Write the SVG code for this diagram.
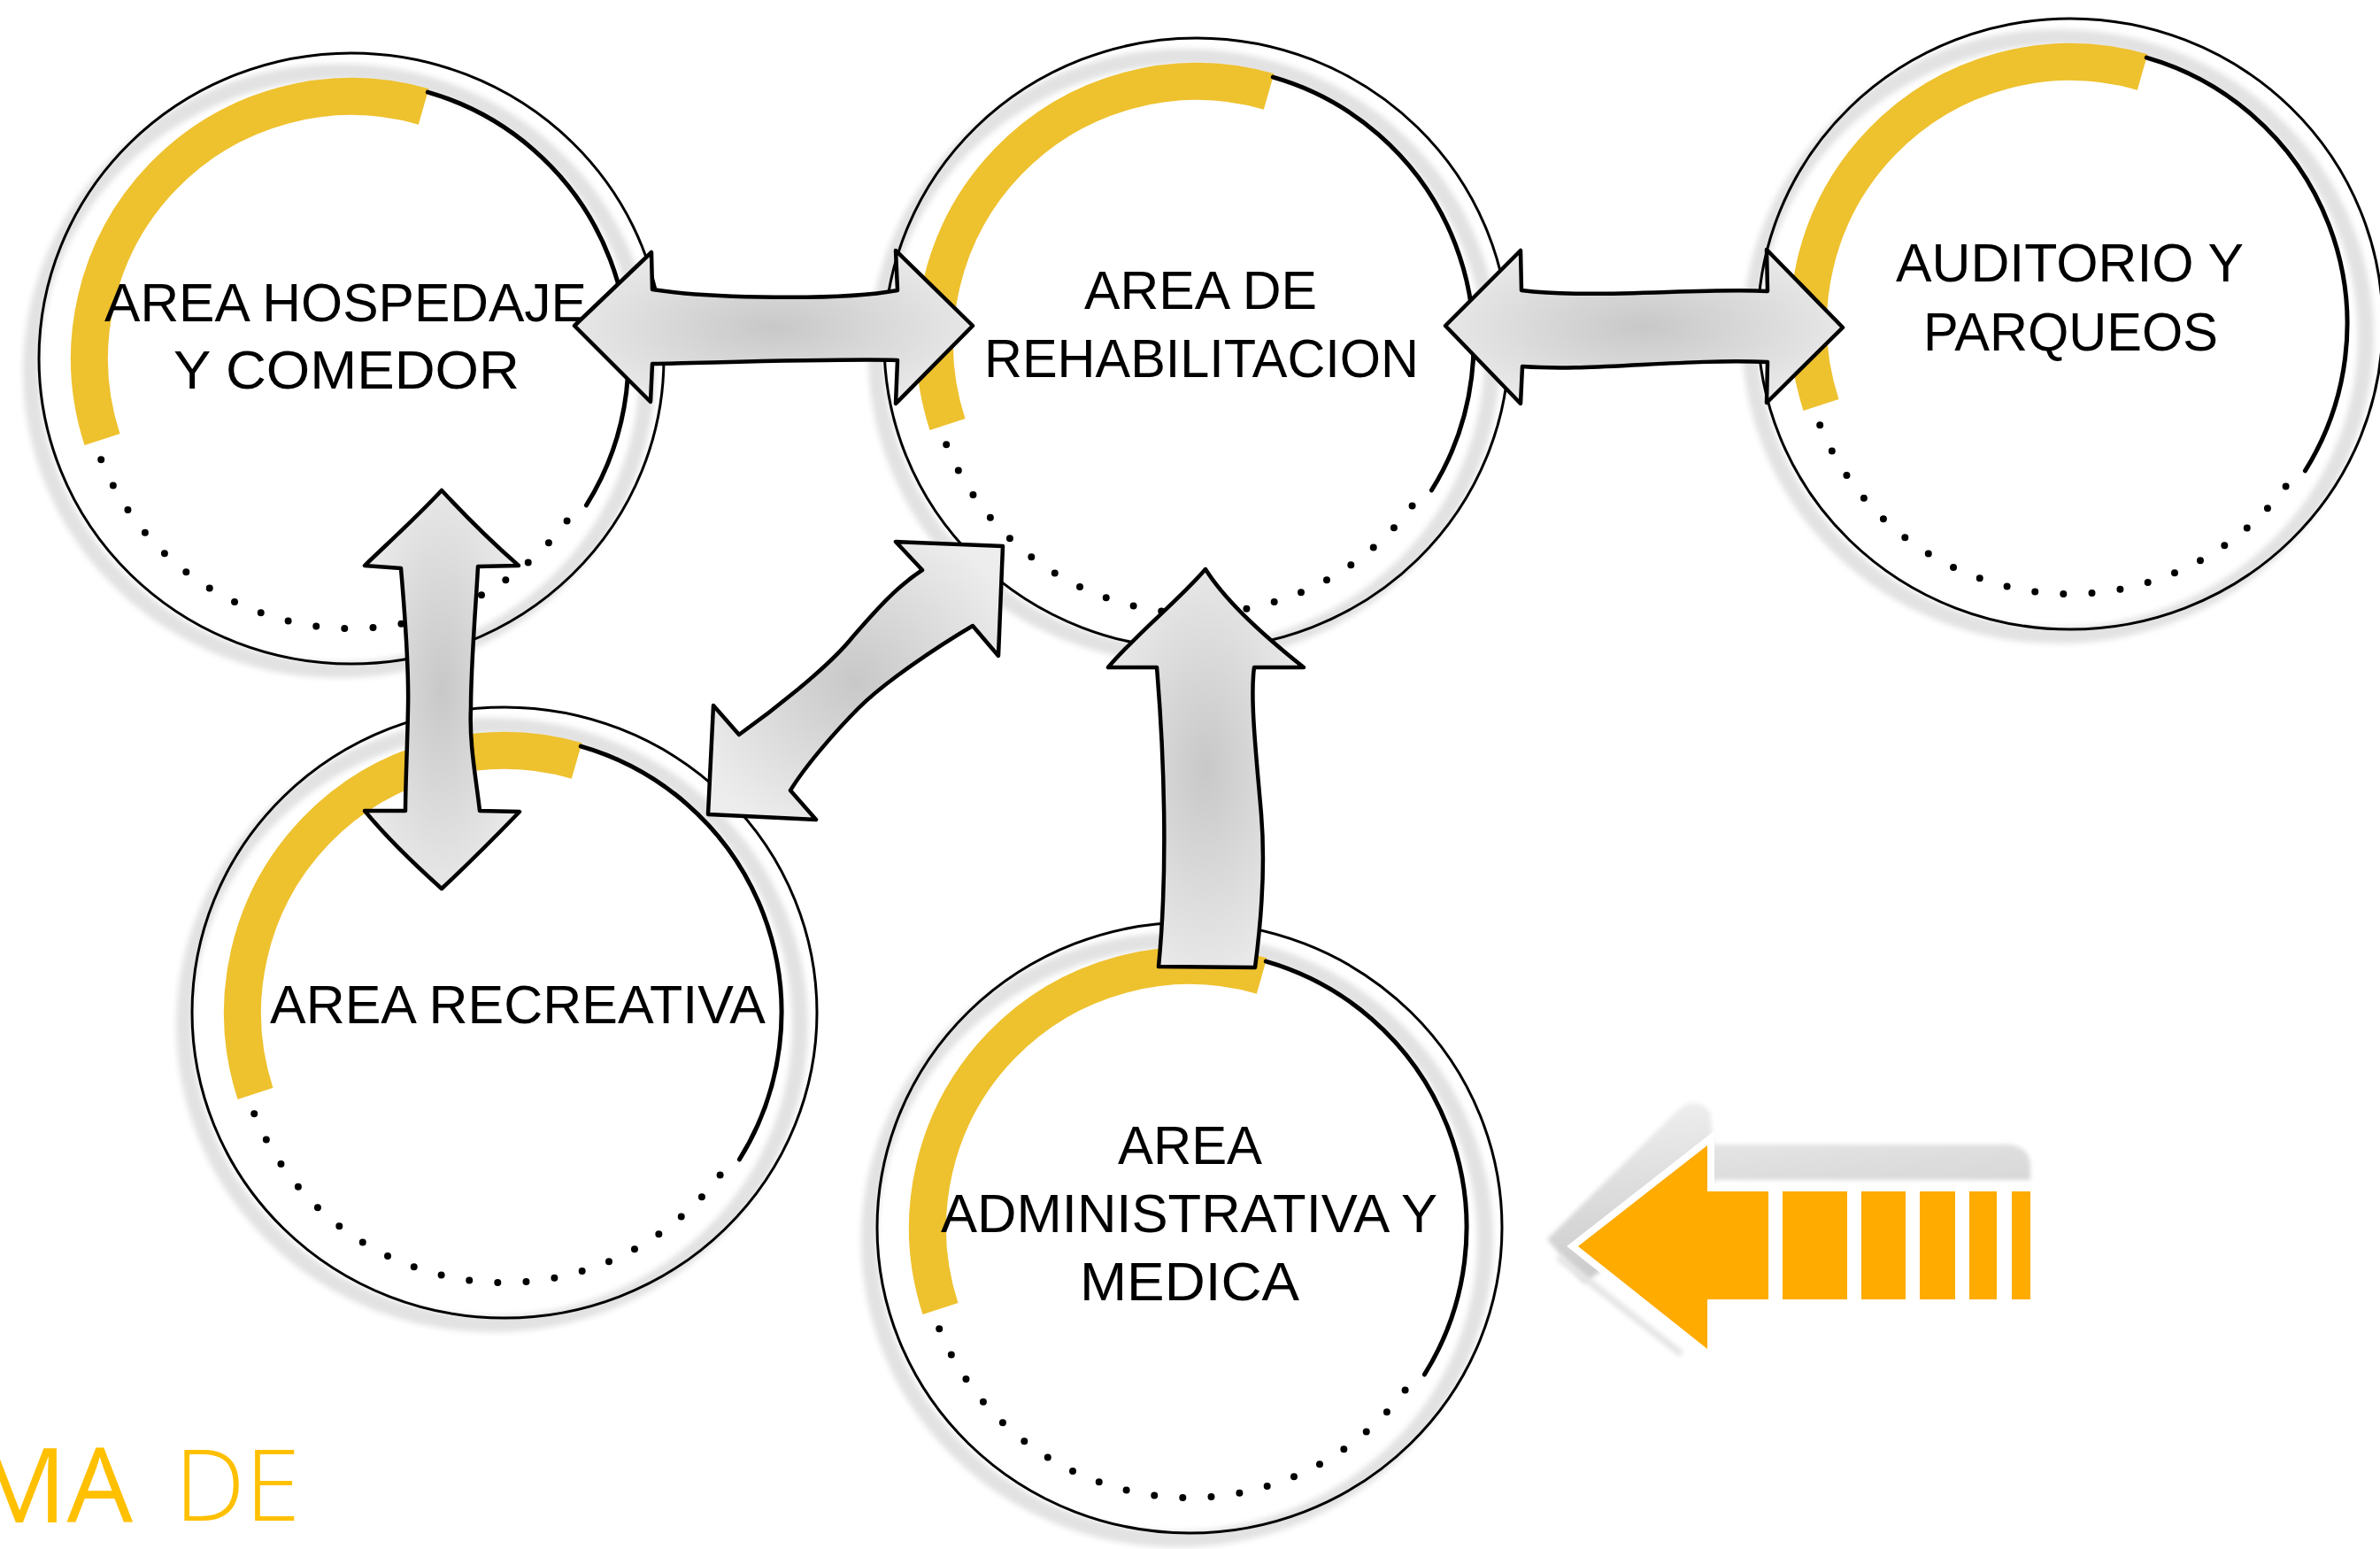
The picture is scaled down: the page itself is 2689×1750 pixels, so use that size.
<svg xmlns="http://www.w3.org/2000/svg" xmlns:xlink="http://www.w3.org/1999/xlink" width="2689" height="1750" viewBox="0 0 2689 1750">
<style>
  .lbl { font-family: "Liberation Sans", Arial, sans-serif; font-size: 62px; fill: #000; }
  .arr { fill: url(#ag); stroke: #000; stroke-width: 4.5; stroke-linejoin: round; }
  .org { fill: #FFAB00; }
  .ttl { font-family: "Open Sans", "Liberation Sans", sans-serif; fill: #FFC000; }
</style>
<defs>
  <radialGradient id="ag" cx="0.5" cy="0.5" r="0.6">
    <stop offset="0" stop-color="#c8c8c8"/>
    <stop offset="1" stop-color="#ededed"/>
  </radialGradient>
  <linearGradient id="sh" x1="0" y1="0" x2="0.25" y2="1">
    <stop offset="0" stop-color="#f0f0f0"/>
    <stop offset="1" stop-color="#c9c9c9"/>
  </linearGradient>
  <filter id="soft" x="-10%" y="-10%" width="120%" height="120%">
    <feGaussianBlur stdDeviation="3"/>
  </filter>
  <filter id="soft2" x="-10%" y="-20%" width="120%" height="140%">
    <feGaussianBlur stdDeviation="2.5"/>
  </filter>
  <g id="ring">
    <ellipse cx="-14" cy="14" rx="348" ry="338" fill="none" stroke="#e2e2e2" stroke-width="18" filter="url(#soft)"/>
    <ellipse cx="0" cy="0" rx="353" ry="345" fill="none" stroke="#000" stroke-width="3"/>
    <path d="M -281.5 91.5 A 296 296 0 0 1 81.6 -284.5" fill="none" stroke="#EEC12E" stroke-width="42"/>
    <path d="M 86.3 -300.9 A 313 313 0 0 1 265.4 165.9" fill="none" stroke="#000" stroke-width="5" stroke-linecap="round"/>
    <path d="M 243.6 183.5 A 305 305 0 0 1 -282.8 114.3" fill="none" stroke="#000" stroke-width="8" stroke-linecap="round" stroke-dasharray="0 32.2"/>
  </g>
</defs>
<rect x="0" y="0" width="2689" height="1750" fill="#fff"/>

<g id="node-hospedaje">
  <use xlink:href="#ring" href="#ring" transform="translate(397,405)"/>
  <text class="lbl" x="118" y="363" textLength="545" lengthAdjust="spacingAndGlyphs">AREA HOSPEDAJE</text>
  <text class="lbl" x="196" y="439" textLength="391" lengthAdjust="spacingAndGlyphs">Y COMEDOR</text>
</g>
<g id="node-rehabilitacion">
  <use xlink:href="#ring" href="#ring" transform="translate(1352,388)"/>
  <text class="lbl" x="1225" y="349" textLength="263" lengthAdjust="spacingAndGlyphs">AREA DE</text>
  <text class="lbl" x="1112" y="426" textLength="491" lengthAdjust="spacingAndGlyphs">REHABILITACION</text>
</g>
<g id="node-auditorio">
  <use xlink:href="#ring" href="#ring" transform="translate(2339,366)"/>
  <text class="lbl" x="2142" y="318" textLength="393" lengthAdjust="spacingAndGlyphs">AUDITORIO Y</text>
  <text class="lbl" x="2173" y="396" textLength="333" lengthAdjust="spacingAndGlyphs">PARQUEOS</text>
</g>
<g id="node-recreativa">
  <use xlink:href="#ring" href="#ring" transform="translate(570,1144)"/>
  <text class="lbl" x="305" y="1156" textLength="560" lengthAdjust="spacingAndGlyphs">AREA RECREATIVA</text>
</g>
<g id="node-administrativa">
  <use xlink:href="#ring" href="#ring" transform="translate(1344,1387)"/>
  <text class="lbl" x="1263" y="1315" textLength="163" lengthAdjust="spacingAndGlyphs">AREA</text>
  <text class="lbl" x="1063" y="1392" textLength="561" lengthAdjust="spacingAndGlyphs">ADMINISTRATIVA Y</text>
  <text class="lbl" x="1220" y="1469" textLength="248" lengthAdjust="spacingAndGlyphs">MEDICA</text>
</g>

<g id="connectors">
  <path id="arrow-hosp-rehab" class="arr" d="M 649 368 L 736 285 L 737 327 C 800 337, 950 340, 1014 328 L 1012 283 L 1099 368 L 1012 456 L 1014 407 C 950 405, 800 410, 737 411 L 735 454 Z"/>
  <path id="arrow-rehab-audit" class="arr" d="M 1633 368 L 1718 283 L 1719 328 C 1800 338, 1920 325, 1997 329 L 1996 282 L 2082 370 L 1996 455 L 1997 409 C 1900 405, 1800 420, 1720 414 L 1718 456 Z"/>
  <path id="arrow-hosp-recre" class="arr" d="M 499 554 C 470 585, 440 612, 412 639 L 453 642 C 458 700, 462 760, 461 800 C 460 850, 458 890, 458 916 L 412 916 C 440 950, 470 978, 499 1004 C 530 975, 560 945, 587 917 L 542 916 C 538 880, 530 840, 532 800 C 532 750, 538 680, 540 640 L 586 639 C 555 612, 525 582, 499 554 Z"/>
  <path id="arrow-recre-rehab" class="arr" d="M 1133 617 L 1128 741 L 1099 707 C 1060 730, 1000 770, 970 800 C 945 825, 910 865, 893 893 L 922 926 L 800 920 L 806 797 L 835 830 C 870 805, 935 755, 963 720 C 985 695, 1010 665, 1042 644 L 1012 612 Z"/>
  <path id="arrow-admin-rehab" class="arr" d="M 1362 643 C 1330 680, 1285 715, 1252 754 L 1307 754 C 1315 850, 1320 980, 1309 1092 L 1418 1093 C 1425 1040, 1430 980, 1425 920 C 1420 860, 1412 790, 1417 754 L 1473 754 C 1430 720, 1385 680, 1362 643 Z"/>
</g>

<g id="orange-arrow">
  <path d="M 1748 1400 L 1898 1252 Q 1916 1238 1932 1256 L 1936 1293 L 2270 1293 Q 2294 1296 2294 1318 L 2294 1333 L 1936 1333 L 1936 1340 L 1790 1450 Z" fill="url(#sh)" filter="url(#soft2)"/>
  <path d="M 1760 1420 L 1900 1530" stroke="#e6e6e6" stroke-width="8" filter="url(#soft2)"/>
  <path d="M 1783 1408 L 1929 1294 L 1929 1346 L 2294 1346 L 2294 1468 L 1929 1468 L 1929 1524 Z" fill="#fff" stroke="#fff" stroke-width="16" stroke-linejoin="miter"/>
  <path class="org" d="M 1783 1408 L 1929 1294 L 1929 1346 L 1998 1346 L 1998 1468 L 1929 1468 L 1929 1524 Z"/>
  <rect class="org" x="2014" y="1346" width="73" height="122"/>
  <rect class="org" x="2103" y="1346" width="50" height="122"/>
  <rect class="org" x="2169" y="1346" width="40" height="122"/>
  <rect class="org" x="2225" y="1346" width="31" height="122"/>
  <rect class="org" x="2273" y="1346" width="21" height="122"/>
</g>

<g id="title">
  <text class="ttl" x="150" y="1720" font-size="118" font-weight="400" text-anchor="end">MA</text>
  <text class="ttl" x="197" y="1718" font-size="113" font-weight="300">DE</text>
</g>
</svg>
